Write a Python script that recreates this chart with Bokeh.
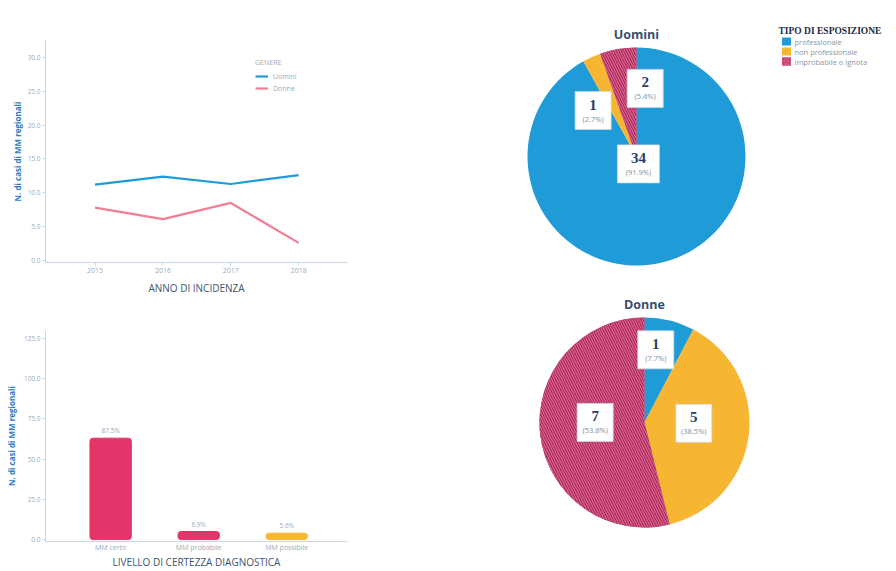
import math
from bokeh.plotting import figure
from bokeh.models import Range1d, FixedTicker, NumeralTickFormatter, Legend, LegendItem
from bokeh.layouts import row, column
from bokeh.embed import file_html
from bokeh.resources import INLINE
from bokeh.core.properties import value

# ---------------- data ----------------
years = [2015, 2016, 2017, 2018]
uomini_trend = [11.2, 12.4, 11.3, 12.6]
donne_trend = [7.8, 6.1, 8.5, 2.6]
genere = ["Uomini", "Donne"]
y_ticks_trend = [0, 5, 10, 15, 20, 25, 30]

livello = ["MM certo", "MM probabile", "MM possibile"]
casi_livello = [63, 5, 4]
y_ticks_livello = [0, 25, 50, 75, 100, 125]

esposizione = ["professionale", "non professionale", "improbabile o ignota"]
uomini_esp = [34, 1, 2]
donne_esp = [1, 5, 7]

# ---------------- style ----------------
FONT = "Open Sans"
AXIS_COL = "#c8d5e2"
TICK_COL = "#a0aab5"
TITLE_COL = "#3d5470"
YLAB_COL = "#2f7cc4"
BLUE = "#1f9bd8"
PINK = "#f07f93"
RED = "#e2356a"
YELLOW = "#f6b632"
MAROON = "#7c1f48"
HATCH = "#e2588a"
exp_colors = [BLUE, YELLOW, MAROON]
bar_colors = [RED, RED, YELLOW]


def style_axes(p):
    p.outline_line_color = None
    p.grid.visible = False
    for ax in p.axis:
        ax.axis_line_color = AXIS_COL
        ax.major_tick_line_color = AXIS_COL
        ax.minor_tick_line_color = None
        ax.major_tick_out = 3
        ax.major_tick_in = 0
        ax.major_label_standoff = 2
        ax.major_label_text_font = FONT
        ax.major_label_text_color = TICK_COL
        ax.axis_label_text_font = FONT
        ax.axis_label_text_font_style = "normal"
    p.xaxis.major_label_text_font_size = "7px"
    p.yaxis.major_label_text_font_size = "6.5px"
    p.yaxis.axis_label = "N. di casi di MM regionali"
    p.yaxis.axis_label_text_font_size = "8px"
    p.yaxis.axis_label_text_color = YLAB_COL
    p.yaxis.axis_label_text_font_style = "bold"
    p.yaxis.axis_label_standoff = 2
    p.xaxis.axis_label_text_font_size = "10px"
    p.xaxis.axis_label_text_color = TITLE_COL


# ---------------- line chart ----------------
p1 = figure(width=360, height=300, output_backend="svg", toolbar_location=None,
            x_range=Range1d(2014.27, 2018.72), y_range=Range1d(-0.3, 32.5),
            min_border_left=43, min_border_right=13, min_border_top=40, min_border_bottom=38)
r_u = p1.line(years, uomini_trend, color=BLUE, line_width=2.2)
r_d = p1.line(years, donne_trend, color=PINK, line_width=2.2)
style_axes(p1)
p1.xaxis.ticker = FixedTicker(ticks=years)
p1.yaxis.ticker = FixedTicker(ticks=y_ticks_trend)
p1.yaxis.formatter = NumeralTickFormatter(format="0.0")
p1.xaxis.axis_label = "ANNO DI INCIDENZA"
p1.xaxis.axis_label_standoff = 5
leg = Legend(items=[LegendItem(label=genere[0], renderers=[r_u]),
                    LegendItem(label=genere[1], renderers=[r_d])],
             title="GENERE", location=(210, 169),
             label_text_font=FONT, label_text_font_size="7px", label_text_color=TICK_COL,
             title_text_font=FONT, title_text_font_size="7px", title_text_color=TICK_COL,
             title_text_font_style="normal", title_standoff=4,
             glyph_width=13, glyph_height=8, label_height=10, spacing=2, padding=4,
             border_line_color=None, background_fill_alpha=0)
p1.add_layout(leg, "center")

# ---------------- bar chart ----------------
xs = list(range(len(livello)))
p2 = figure(width=360, height=271, output_backend="svg", toolbar_location=None,
            x_range=Range1d(-0.74, 2.69), y_range=Range1d(-1.2, 129.9),
            min_border_left=45, min_border_right=13, min_border_top=30, min_border_bottom=26)
p2.vbar(x=xs, top=casi_livello, width=0.47, color=bar_colors, border_radius=3)
tot = sum(casi_livello)
pct_liv = [f"{v / tot * 100:.1f}%" for v in casi_livello]
p2.text(x=xs, y=casi_livello, text=pct_liv, text_align="center", text_baseline="bottom",
        y_offset=-3, text_font=value(FONT), text_font_size="6.5px", text_color=TICK_COL)
style_axes(p2)
p2.xaxis.ticker = FixedTicker(ticks=xs)
p2.xaxis.major_label_overrides = {i: s for i, s in enumerate(livello)}
p2.xaxis.major_tick_line_color = None
p2.xaxis.major_tick_out = 0
p2.xaxis.major_label_standoff = 1
p2.yaxis.ticker = FixedTicker(ticks=y_ticks_livello)
p2.yaxis.formatter = NumeralTickFormatter(format="0.0")
p2.xaxis.axis_label = "LIVELLO DI CERTEZZA DIAGNOSTICA"
p2.xaxis.axis_label_standoff = 0
p2.yaxis.axis_label_standoff = 4

# ---------------- pies + legend ----------------
PX0, PY0 = 360, 571  # page position of this panel (x left, y bottom)
pr = figure(width=530, height=571, output_backend="svg", toolbar_location=None,
            x_range=Range1d(0, 530), y_range=Range1d(0, 571), min_border=0)
pr.axis.visible = False
pr.grid.visible = False
pr.outline_line_color = None

pies = [
    # title, counts, centre (page px), radius, label radius fraction, angle nudge (deg)
    ("Uomini", uomini_esp, (636, 156), 109, [0.07, 0.58, 0.63], [0, 19, -17]),
    ("Donne", donne_esp, (644, 422), 105, [0.70, 0.47, 0.47], [5, 6, -7]),
]
for title, counts, (cpx, cpy), rad, lfr, nud in pies:
    cx, cy = cpx - PX0, PY0 - cpy
    total = sum(counts)
    cum = 0
    starts, ends, mids = [], [], []
    for c in counts:
        a0 = math.pi / 2 - 2 * math.pi * cum / total
        cum += c
        a1 = math.pi / 2 - 2 * math.pi * cum / total
        starts.append(a0)
        ends.append(a1)
        mids.append((a0 + a1) / 2)
    for i in range(len(counts)):
        kw = dict(fill_color=exp_colors[i], line_color=None)
        if i == 2:
            kw.update(hatch_pattern="\\", hatch_color=HATCH, hatch_weight=1.6, hatch_scale=5)
        pr.wedge(x=cx, y=cy, radius=rad, start_angle=starts[i], end_angle=ends[i],
                 direction="clock", **kw)
    pr.text(x=cx, y=cy + rad + 5, text=[title], text_align="center", text_baseline="bottom",
            text_font=value(FONT), text_font_style="bold", text_font_size="12.5px",
            text_color="#35506e")
    for i, c in enumerate(counts):
        ang = mids[i] + math.radians(nud[i])
        lx = cx + lfr[i] * rad * math.cos(ang)
        ly = cy + lfr[i] * rad * math.sin(ang)
        bw = 36 if c < 10 else 42
        pr.rect(x=lx, y=ly, width=bw, height=38, fill_color="white", line_color="#d0d6dd",
                line_width=0.8)
        pr.text(x=lx, y=ly + 1, text=[str(c)], text_align="center", text_baseline="bottom",
                text_font=value("Liberation Serif"), text_font_style="bold",
                text_font_size="15px", text_color="#2a3f66")
        pr.text(x=lx, y=ly - 3, text=[f"({c / total * 100:.1f}%)"], text_align="center",
                text_baseline="top", text_font=value(FONT), text_font_size="7.5px",
                text_color="#7d8ea3")

# legend of exposure type
pr.text(x=778 - PX0, y=PY0 - 30, text=["TIPO DI ESPOSIZIONE"], text_align="left",
        text_baseline="middle", text_font=value("Liberation Serif"), text_font_style="bold",
        text_font_size="9.5px", text_color="#1d2b3f")
for i, lab in enumerate(esposizione):
    yy = PY0 - (41 + 10 * i)
    kw = dict(fill_color=exp_colors[i], line_color=None)
    if i == 2:
        kw.update(hatch_pattern="\\", hatch_color=HATCH, hatch_weight=1.2, hatch_scale=3)
    pr.rect(x=786 - PX0, y=yy, width=9, height=8, **kw)
    pr.text(x=794 - PX0, y=yy, text=[lab], text_align="left", text_baseline="middle",
            text_font=value(FONT), text_font_size="7.5px", text_color="#8a96a3")

layout = row(column(p1, p2), pr)
open("out.html", "w").write(file_html(layout, INLINE))
